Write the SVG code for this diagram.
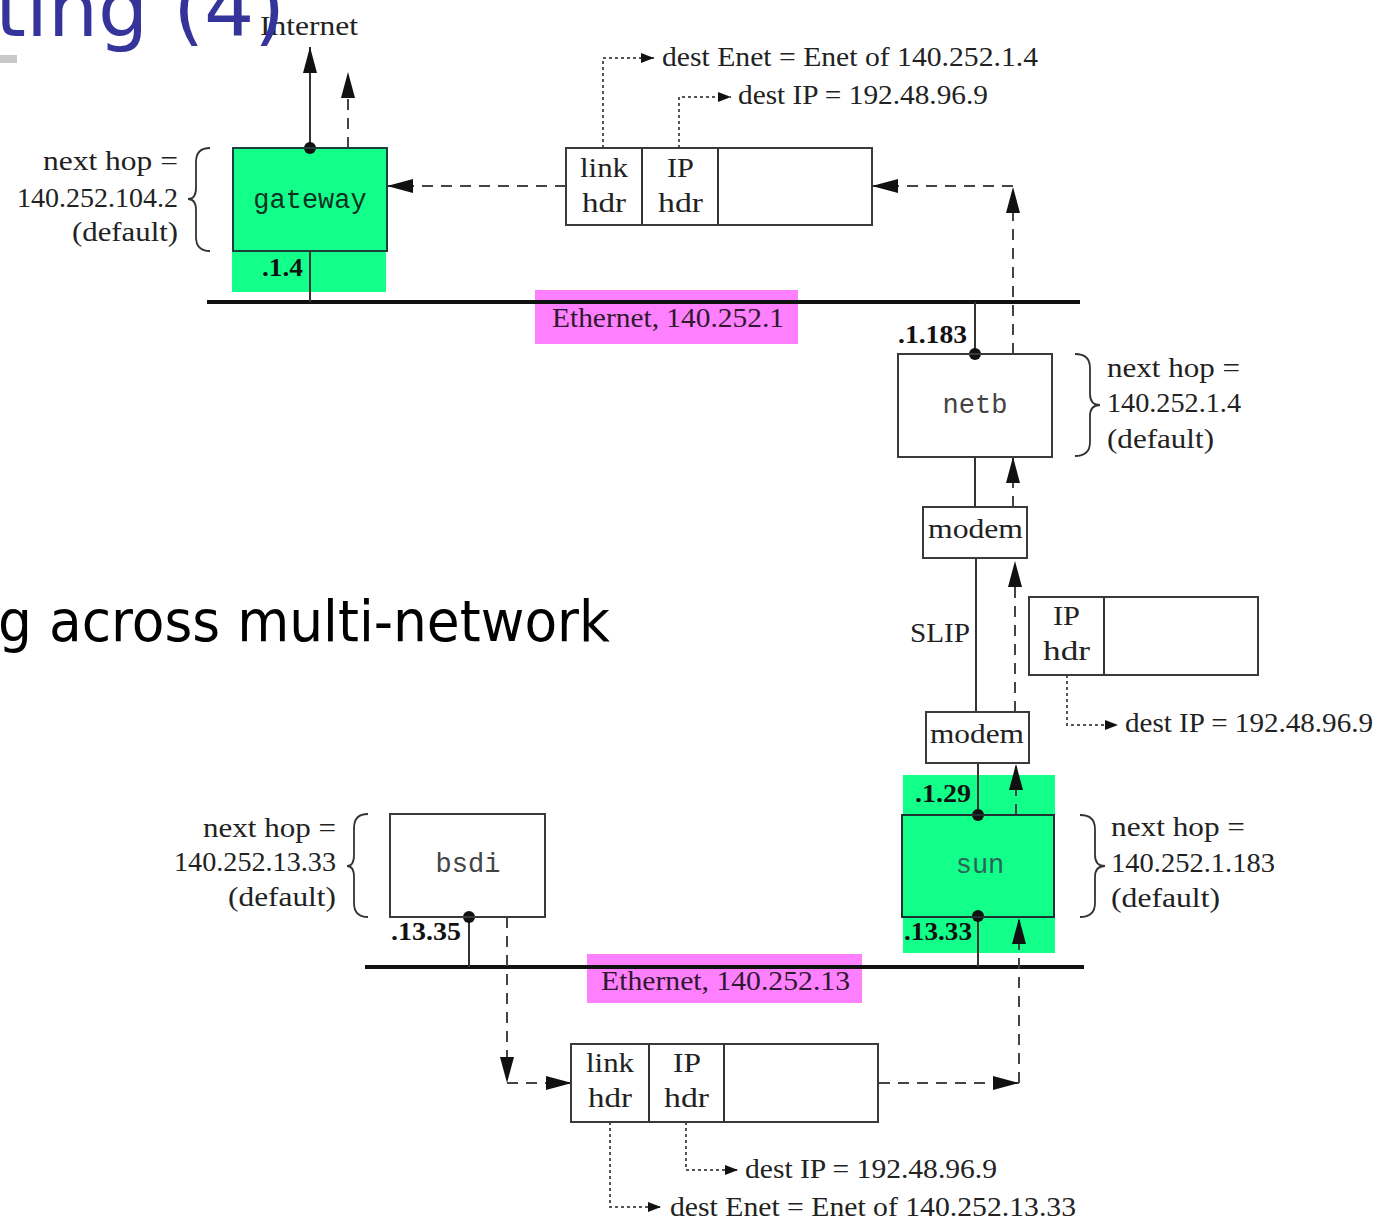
<svg xmlns="http://www.w3.org/2000/svg" width="1384" height="1225" viewBox="0 0 1384 1225">
<defs>
<style>
.lbl{font-family:"Liberation Serif","Times New Roman",serif;font-size:28px;fill:#222}
.ifc{font-family:"Liberation Serif","Times New Roman",serif;font-size:26px;font-weight:bold;fill:#111}
.host{font-family:"Liberation Mono","Courier New",monospace;font-size:27px;fill:#444;text-anchor:middle}
.box{fill:none;stroke:#3a3a3a;stroke-width:2}
.solid{fill:none;stroke:#333;stroke-width:2}
.dash{fill:none;stroke:#444;stroke-width:2;stroke-dasharray:11 8}
.dot{fill:none;stroke:#555;stroke-width:2;stroke-dasharray:3 3}
.brace{fill:none;stroke:#333;stroke-width:1.8}
.net{stroke:#111;stroke-width:4}
.green{fill:#12ff8a}
.mag{fill:#ff80ff}
</style>
<marker id="ah" markerUnits="userSpaceOnUse" markerWidth="26" markerHeight="14" refX="26" refY="7" orient="auto"><path d="M0,0 L26,7 L0,14 Z" fill="#111" stroke="none"/></marker>
<marker id="sa" markerUnits="userSpaceOnUse" markerWidth="13" markerHeight="10" refX="13" refY="5" orient="auto"><path d="M0,0 L13,5 L0,10 Z" fill="#111" stroke="none"/></marker>
</defs>
<rect width="1384" height="1225" fill="#fff"/>

<!-- backgrounds -->
<rect class="green" x="232" y="148" width="154" height="144"/>
<rect class="green" x="903" y="775" width="152" height="178"/>
<rect class="mag" x="535" y="290" width="263" height="54"/>
<rect class="mag" x="587" y="954" width="275" height="49"/>

<!-- networks -->
<g id="ethernet-top">
<line class="net" x1="207" y1="302" x2="1080" y2="302"/>
<text class="lbl" x="552" y="327" textLength="232" lengthAdjust="spacingAndGlyphs" style="fill:#301830">Ethernet, 140.252.1</text>
</g>
<g id="ethernet-bottom">
<line class="net" x1="365" y1="967" x2="1084" y2="967"/>
<text class="lbl" x="601" y="990" textLength="249" lengthAdjust="spacingAndGlyphs" style="fill:#301830">Ethernet, 140.252.13</text>
</g>

<!-- connectors -->
<g id="connectors">
<path class="solid" d="M310,148 V47" marker-end="url(#ah)"/>
<path class="dash" d="M348,148 V72" marker-end="url(#ah)"/>
<path class="solid" d="M310,251 V302"/>
<path class="dash" d="M566,186 H387" marker-end="url(#ah)"/>
<path class="dash" d="M1013,354 V187" marker-end="url(#ah)"/>
<path class="dash" d="M1013,186 H872" marker-end="url(#ah)"/>
<path class="solid" d="M975,302 V354"/>
<path class="solid" d="M975,457 V507"/>
<path class="dash" d="M1013,507 V457" marker-end="url(#ah)"/>
<path class="solid" d="M976,558 V712"/>
<path class="dash" d="M1015,712 V561" marker-end="url(#ah)"/>
<path class="solid" d="M978,763 V815"/>
<path class="dash" d="M1016,815 V764" marker-end="url(#ah)"/>
<path class="solid" d="M978,916 V967"/>
<path class="dash" d="M1019,1083 V918" marker-end="url(#ah)"/>
<path class="dash" d="M879,1083 H1019" marker-end="url(#ah)"/>
<path class="solid" d="M469,917 V967"/>
<path class="dash" d="M507,917 V1083" marker-end="url(#ah)"/>
<path class="dash" d="M507,1083 H572" marker-end="url(#ah)"/>
<path class="dot" d="M603,148 V58 H654" marker-end="url(#sa)"/>
<path class="dot" d="M679,148 V97 H731" marker-end="url(#sa)"/>
<path class="dot" d="M1067,675 V725 H1118" marker-end="url(#sa)"/>
<path class="dot" d="M610,1122 V1207 H661" marker-end="url(#sa)"/>
<path class="dot" d="M686,1122 V1170 H738" marker-end="url(#sa)"/>
<circle cx="310" cy="148" r="6" fill="#111"/>
<circle cx="975" cy="354" r="6" fill="#111"/>
<circle cx="978" cy="815" r="6" fill="#111"/>
<circle cx="978" cy="916" r="6" fill="#111"/>
<circle cx="469" cy="917" r="6" fill="#111"/>
</g>

<g id="internet">
<text class="lbl" x="260" y="35" textLength="98" lengthAdjust="spacingAndGlyphs">Internet</text>
</g>

<g id="gateway">
<rect class="box" x="233" y="148" width="154" height="103" style="stroke:#1f3f3f"/>
<text class="host" x="310" y="208" style="fill:#0d3322">gateway</text>
<text class="ifc" x="262" y="276" textLength="41" lengthAdjust="spacingAndGlyphs">.1.4</text>
<path class="brace" d="M210,148 Q196,148 196,162 L196,188 Q196,199 188,199 Q196,199 196,210 L196,237 Q196,251 210,251"/>
<text class="lbl" x="43" y="170" textLength="135" lengthAdjust="spacingAndGlyphs">next hop =</text>
<text class="lbl" x="17" y="207" textLength="161" lengthAdjust="spacingAndGlyphs">140.252.104.2</text>
<text class="lbl" x="72" y="241" textLength="106" lengthAdjust="spacingAndGlyphs">(default)</text>
</g>

<g id="packet-top">
<rect class="box" x="566" y="148" width="306" height="77"/>
<line class="solid" x1="642" y1="148" x2="642" y2="225"/>
<line class="solid" x1="718" y1="148" x2="718" y2="225"/>
<text class="lbl" x="580" y="177" textLength="48" lengthAdjust="spacingAndGlyphs">link</text>
<text class="lbl" x="582" y="212" textLength="44" lengthAdjust="spacingAndGlyphs">hdr</text>
<text class="lbl" x="667" y="177" textLength="27" lengthAdjust="spacingAndGlyphs">IP</text>
<text class="lbl" x="658" y="212" textLength="45" lengthAdjust="spacingAndGlyphs">hdr</text>
<text class="lbl" x="662" y="66" textLength="376" lengthAdjust="spacingAndGlyphs">dest Enet = Enet of 140.252.1.4</text>
<text class="lbl" x="738" y="104" textLength="250" lengthAdjust="spacingAndGlyphs">dest IP = 192.48.96.9</text>
</g>

<g id="netb">
<rect class="box" x="898" y="354" width="154" height="103"/>
<text class="host" x="975" y="413">netb</text>
<text class="ifc" x="898" y="343" textLength="69" lengthAdjust="spacingAndGlyphs">.1.183</text>
<path class="brace" d="M1075,354 Q1090,354 1090,368 L1090,394 Q1090,405 1100,405 Q1090,405 1090,416 L1090,442 Q1090,456 1075,456"/>
<text class="lbl" x="1107" y="377" textLength="133" lengthAdjust="spacingAndGlyphs">next hop =</text>
<text class="lbl" x="1107" y="412" textLength="134" lengthAdjust="spacingAndGlyphs">140.252.1.4</text>
<text class="lbl" x="1107" y="448" textLength="107" lengthAdjust="spacingAndGlyphs">(default)</text>
</g>

<g id="modem1">
<rect class="box" x="923" y="507" width="104" height="51"/>
<text class="lbl" x="928" y="538" textLength="95" lengthAdjust="spacingAndGlyphs">modem</text>
</g>

<g id="slip">
<text class="lbl" x="910" y="642" textLength="60" lengthAdjust="spacingAndGlyphs">SLIP</text>
</g>

<g id="packet-slip">
<rect class="box" x="1029" y="597" width="229" height="78"/>
<line class="solid" x1="1104" y1="597" x2="1104" y2="675"/>
<text class="lbl" x="1053" y="625" textLength="27" lengthAdjust="spacingAndGlyphs">IP</text>
<text class="lbl" x="1043" y="660" textLength="47" lengthAdjust="spacingAndGlyphs">hdr</text>
<text class="lbl" x="1125" y="732" textLength="248" lengthAdjust="spacingAndGlyphs">dest IP = 192.48.96.9</text>
</g>

<g id="modem2">
<rect class="box" x="926" y="712" width="103" height="51"/>
<text class="lbl" x="930" y="743" textLength="94" lengthAdjust="spacingAndGlyphs">modem</text>
</g>

<g id="sun">
<rect class="box" x="902" y="815" width="152" height="102" style="stroke:#1f3030"/>
<text class="host" x="980" y="873" style="fill:#2a6658">sun</text>
<text class="ifc" x="915" y="802" textLength="56" lengthAdjust="spacingAndGlyphs">.1.29</text>
<text class="ifc" x="904" y="940" textLength="68" lengthAdjust="spacingAndGlyphs">.13.33</text>
<path class="brace" d="M1080,815 Q1095,815 1095,829 L1095,855 Q1095,866 1105,866 Q1095,866 1095,877 L1095,903 Q1095,917 1080,917"/>
<text class="lbl" x="1111" y="836" textLength="134" lengthAdjust="spacingAndGlyphs">next hop =</text>
<text class="lbl" x="1111" y="872" textLength="164" lengthAdjust="spacingAndGlyphs">140.252.1.183</text>
<text class="lbl" x="1111" y="907" textLength="109" lengthAdjust="spacingAndGlyphs">(default)</text>
</g>

<g id="bsdi">
<rect class="box" x="390" y="814" width="155" height="103"/>
<text class="host" x="468" y="872">bsdi</text>
<text class="ifc" x="391" y="940" textLength="70" lengthAdjust="spacingAndGlyphs">.13.35</text>
<path class="brace" d="M368,814 Q354,814 354,828 L354,855 Q354,866 347,866 Q354,866 354,877 L354,903 Q354,917 368,917"/>
<text class="lbl" x="203" y="837" textLength="133" lengthAdjust="spacingAndGlyphs">next hop =</text>
<text class="lbl" x="174" y="871" textLength="162" lengthAdjust="spacingAndGlyphs">140.252.13.33</text>
<text class="lbl" x="228" y="906" textLength="108" lengthAdjust="spacingAndGlyphs">(default)</text>
</g>

<g id="packet-bottom">
<rect class="box" x="571" y="1044" width="307" height="78"/>
<line class="solid" x1="649" y1="1044" x2="649" y2="1122"/>
<line class="solid" x1="724" y1="1044" x2="724" y2="1122"/>
<text class="lbl" x="586" y="1072" textLength="48" lengthAdjust="spacingAndGlyphs">link</text>
<text class="lbl" x="588" y="1107" textLength="44" lengthAdjust="spacingAndGlyphs">hdr</text>
<text class="lbl" x="673" y="1072" textLength="28" lengthAdjust="spacingAndGlyphs">IP</text>
<text class="lbl" x="664" y="1107" textLength="45" lengthAdjust="spacingAndGlyphs">hdr</text>
<text class="lbl" x="745" y="1178" textLength="252" lengthAdjust="spacingAndGlyphs">dest IP = 192.48.96.9</text>
<text class="lbl" x="670" y="1216" textLength="406" lengthAdjust="spacingAndGlyphs">dest Enet = Enet of 140.252.13.33</text>
</g>

<g id="slide">
<text x="-5" y="36" style="font-family:'DejaVu Sans',Verdana,sans-serif;font-size:79px;fill:#35349a">ting (4)</text>
<rect x="0" y="55" width="17" height="8" fill="#c8c8c8"/>
<text x="-2" y="641" textLength="612" lengthAdjust="spacingAndGlyphs" style="font-family:'DejaVu Sans',Verdana,sans-serif;font-size:57px;fill:#000">g across multi-network</text>
</g>
</svg>
